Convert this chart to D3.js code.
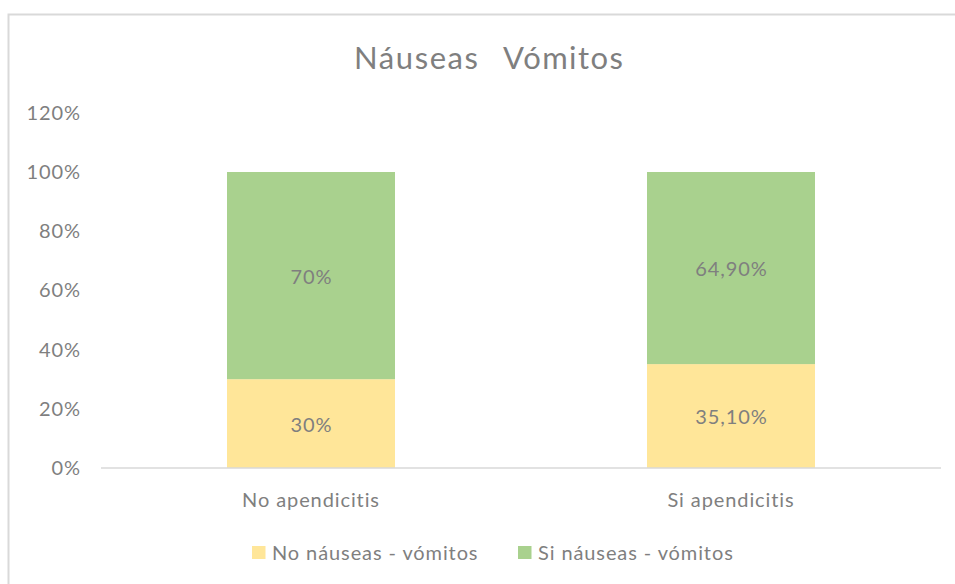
<!DOCTYPE html>
<html>
<head>
<meta charset="utf-8">
<script src="https://cdn.jsdelivr.net/npm/d3@7"></script>
<style>
  html, body { margin: 0; padding: 0; background: #fff; }
  svg { display: block; font-family: Lato, "Open Sans", sans-serif; }
</style>
</head>
<body>
<svg id="chart" width="955" height="584"></svg>
<script>
const categories = ["No apendicitis", "Si apendicitis"];
const seriesNames = ["No náuseas - vómitos", "Si náuseas - vómitos"];
const noNauseas = [30, 35.1];
const siNauseas = [70, 64.9];
const labelsNo = ["30%", "35,10%"];
const labelsSi = ["70%", "64,90%"];
const yTicks = [0, 20, 40, 60, 80, 100, 120];
const colors = ["#FFE699", "#A9D18E"];
const titleWords = ["Náuseas", "Vómitos"];

const svg = d3.select("#chart");
const textColor = "#7f7f7f";
const ls = 0.9;

// chart border
svg.append("path")
  .attr("d", "M8.5,584 L8.5,14.5 L955,14.5")
  .attr("fill", "none").attr("stroke", "#d9d9d9").attr("stroke-width", 2);

const x = d3.scaleBand().domain(categories).range([101, 941])
  .paddingInner(0.6).paddingOuter(0.3);
const y = d3.scaleLinear().domain([0, 120]).range([468, 112.8]);

// y axis labels
const yAxis = d3.axisLeft(y).tickValues(yTicks).tickFormat(d => d + "%").tickSize(0).tickPadding(20);
const gy = svg.append("g").attr("transform", "translate(101,0)").call(yAxis);
gy.select(".domain").remove();
gy.selectAll("text").attr("fill", textColor).attr("font-size", 20)
  .attr("letter-spacing", ls + "px")
  .attr("font-family", "Lato, sans-serif");

// stacked data
const rows = categories.map((c, i) => ({ cat: c, no: noNauseas[i], si: siNauseas[i], i }));
const stack = d3.stack().keys(["no", "si"])(rows);

stack.forEach((layer, k) => {
  svg.append("g").selectAll("rect").data(layer).join("rect")
    .attr("x", d => x(d.data.cat))
    .attr("width", x.bandwidth())
    .attr("y", d => y(d[1]))
    .attr("height", d => y(d[0]) - y(d[1]))
    .attr("fill", colors[k]);
  const labs = k === 0 ? labelsNo : labelsSi;
  svg.append("g").selectAll("text").data(layer).join("text")
    .attr("x", d => x(d.data.cat) + x.bandwidth() / 2 + ls / 2)
    .attr("y", d => (y(d[0]) + y(d[1])) / 2 + 1)
    .attr("dy", "0.35em")
    .attr("text-anchor", "middle")
    .attr("font-size", 20)
    .attr("letter-spacing", ls + "px")
    .attr("fill", textColor)
    .text((d, j) => labs[j]);
});

// x axis
const xAxis = d3.axisBottom(x).tickSize(0).tickPadding(25);
const gx = svg.append("g").attr("transform", "translate(0,468)").call(xAxis);
gx.select(".domain").attr("stroke", "#d9d9d9").attr("stroke-width", 1.5)
  .attr("d", "M101,0H941");
gx.selectAll("text").attr("fill", textColor).attr("font-size", 20)
  .attr("letter-spacing", ls + "px")
  .attr("font-family", "Lato, sans-serif");

// title
svg.append("text").attr("x", 478).attr("y", 69).attr("text-anchor", "end")
  .attr("font-size", 31).attr("fill", textColor)
  .attr("textLength", 124).attr("lengthAdjust", "spacing")
  .text(titleWords[0]);
svg.append("text").attr("x", 503).attr("y", 69).attr("text-anchor", "start")
  .attr("font-size", 31).attr("fill", textColor)
  .attr("textLength", 120).attr("lengthAdjust", "spacing")
  .text(titleWords[1]);

// legend
const legendX = [252, 518];
seriesNames.forEach((name, k) => {
  const g = svg.append("g").attr("transform", `translate(${legendX[k]},546)`);
  g.append("rect").attr("width", 13.5).attr("height", 13).attr("fill", colors[k]);
  g.append("text").attr("x", 20).attr("y", 6.5).attr("dy", "0.35em")
    .attr("font-size", 20).attr("letter-spacing", ls + "px")
    .attr("fill", textColor).text(name);
});
</script>
</body>
</html>
